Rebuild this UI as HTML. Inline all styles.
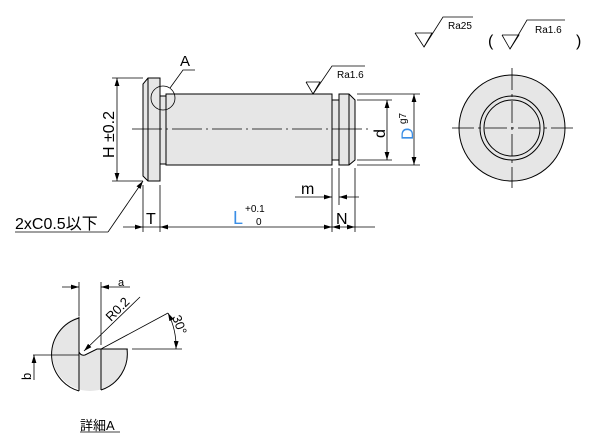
<!DOCTYPE html>
<html><head><meta charset="utf-8"><style>
body{margin:0;background:#fff}
svg{display:block}
text{font-family:"Liberation Sans","Noto Sans CJK JP",sans-serif;fill:#000}
</style></head><body>
<svg width="600" height="445" viewBox="0 0 600 445" xmlns="http://www.w3.org/2000/svg">
<defs>
<marker id="ar" viewBox="0 0 10 6" refX="10" refY="3" markerWidth="8" markerHeight="5" orient="auto-start-reverse" markerUnits="userSpaceOnUse"><path d="M0,0 L10,3 L0,6z" fill="#000"/></marker>
<clipPath id="cc"><circle cx="90" cy="353" r="38"/></clipPath>
</defs>
<g stroke="#000" stroke-width="1" fill="#e6e6e6">
<path d="M148,78 L160,78 L160,181 L148,181 L143,176 L143,84 Z"/>
<line x1="148" y1="78" x2="148" y2="181"/>
<rect x="160" y="96" width="6" height="68"/>
<rect x="166" y="94" width="166" height="71"/>
<rect x="332" y="100" width="7" height="60"/>
<path d="M339,94 L349,94 L355,100 L355,160 L349,165 L339,165 Z"/>
<line x1="349" y1="94" x2="349" y2="165"/>
<circle cx="512" cy="128" r="53"/>
<circle cx="512" cy="128" r="32" fill="none"/>
<circle cx="512" cy="128" r="28" fill="none"/>
</g>
<g stroke="#000" stroke-width="0.8" fill="none">
<line x1="132" y1="129" x2="370" y2="129" stroke-dasharray="30,4,2,4"/>
<line x1="452" y1="128" x2="574" y2="128" stroke-dasharray="22,4,3,4"/>
<line x1="512" y1="68" x2="512" y2="188" stroke-dasharray="22,4,3,4"/>
<line x1="112" y1="78" x2="143" y2="78"/><line x1="112" y1="181" x2="143" y2="181"/>
<line x1="117" y1="78" x2="117" y2="181" marker-start="url(#ar)" marker-end="url(#ar)"/>
<line x1="357" y1="100" x2="392" y2="100"/><line x1="357" y1="160" x2="392" y2="160"/>
<line x1="357" y1="94" x2="420" y2="94"/><line x1="357" y1="165" x2="420" y2="165"/>
<line x1="387" y1="100" x2="387" y2="160" marker-start="url(#ar)" marker-end="url(#ar)"/>
<line x1="414" y1="94" x2="414" y2="165" marker-start="url(#ar)" marker-end="url(#ar)"/>
<line x1="143" y1="185" x2="143" y2="232"/><line x1="160" y1="185" x2="160" y2="232"/>
<line x1="332" y1="168" x2="332" y2="232"/><line x1="339" y1="168" x2="339" y2="205"/>
<line x1="355" y1="168" x2="355" y2="232"/>
<line x1="123" y1="227" x2="143" y2="227" marker-end="url(#ar)"/>
<line x1="143" y1="227" x2="160" y2="227"/>
<line x1="160" y1="227" x2="332" y2="227" marker-start="url(#ar)" marker-end="url(#ar)"/>
<line x1="332" y1="227" x2="355" y2="227" marker-start="url(#ar)" marker-end="url(#ar)"/>
<line x1="355" y1="227" x2="375" y2="227"/>
<line x1="295" y1="197" x2="332" y2="197" marker-end="url(#ar)"/>
<line x1="359" y1="197" x2="339" y2="197" marker-end="url(#ar)"/>
<line x1="15" y1="232" x2="108" y2="232"/>
<line x1="108" y1="232" x2="143" y2="181" marker-end="url(#ar)"/>
<circle cx="163" cy="98" r="12"/>
<polyline points="170,88 183,70 195,70"/>
<polyline points="306,82 320,82 313,94 306,82"/>
<polyline points="313,94 332,66 365,66"/>
<polyline points="415,33 432,33 424,47 415,33"/>
<polyline points="424,47 443,17 473,17"/>
<polyline points="502,35 519,35 510,49 502,35"/>
<polyline points="510,49 527,20 565,20"/>
</g>
<text x="180" y="66" font-size="15">A</text>
<text x="337" y="78" font-size="10">Ra1.6</text>
<text x="448" y="29" font-size="10">Ra25</text>
<text x="535" y="33" font-size="10">Ra1.6</text>
<text x="488" y="46" font-size="16">(</text>
<text x="576" y="46" font-size="16">)</text>
<text x="15" y="229" font-size="16">2xC0.5以下</text>
<text x="146" y="224" font-size="16">T</text>
<text x="233" y="224" font-size="18" style="fill:#3a8ee6">L</text>
<text x="245" y="212" font-size="10">+0.1</text>
<text x="256" y="225" font-size="10">0</text>
<text x="336" y="224" font-size="16">N</text>
<text x="301" y="194" font-size="16">m</text>
<text transform="translate(114,158) rotate(-90)" font-size="16">H ±0.2</text>
<text transform="translate(385,138) rotate(-90)" font-size="16">d</text>
<text transform="translate(413,140) rotate(-90)" font-size="17" style="fill:#3a8ee6">D</text>
<text transform="translate(406,124) rotate(-90)" font-size="10">g7</text>
<g clip-path="url(#cc)">
<path d="M0,300 L79,300 L79,352 Q81,356 85,355 L97,349 L200,349 L200,400 L0,400 Z" fill="#e6e6e6" stroke="#000" stroke-width="1"/>
</g>
<g stroke="#000" stroke-width="1" fill="none">
<path d="M79,318 A38,38 0 0 0 79,391"/>
<line x1="79" y1="318" x2="79" y2="391"/>
<line x1="101" y1="349" x2="101" y2="390"/>
<line x1="101" y1="349" x2="127" y2="349"/>
<path d="M101,390 A38,38 0 0 0 127,349"/>
</g>
<g stroke="#000" stroke-width="0.8" fill="none">
<line x1="79" y1="282" x2="79" y2="316"/><line x1="101" y1="282" x2="101" y2="345"/>
<line x1="62" y1="287" x2="79" y2="287" marker-end="url(#ar)"/>
<line x1="130" y1="287" x2="101" y2="287" marker-end="url(#ar)"/>
<line x1="140" y1="297" x2="84" y2="351" marker-end="url(#ar)"/>
<line x1="101" y1="349" x2="168" y2="313"/>
<line x1="132" y1="349" x2="182" y2="349"/>
<path d="M168,313 A75,75 0 0 1 176,349" marker-start="url(#ar)" marker-end="url(#ar)"/>
<line x1="33" y1="355" x2="79" y2="355"/>
<line x1="34" y1="380" x2="34" y2="355" marker-end="url(#ar)"/>
<line x1="80" y1="432" x2="120" y2="432"/>
</g>
<text x="118" y="286" font-size="11">a</text>
<text transform="translate(111,322) rotate(-45)" font-size="13">R0.2</text>
<text transform="translate(172,317) rotate(70)" font-size="13">30°</text>
<text transform="translate(31,380) rotate(-90)" font-size="13">b</text>
<text x="80" y="430" font-size="13">詳細A</text>
</svg>
</body></html>
